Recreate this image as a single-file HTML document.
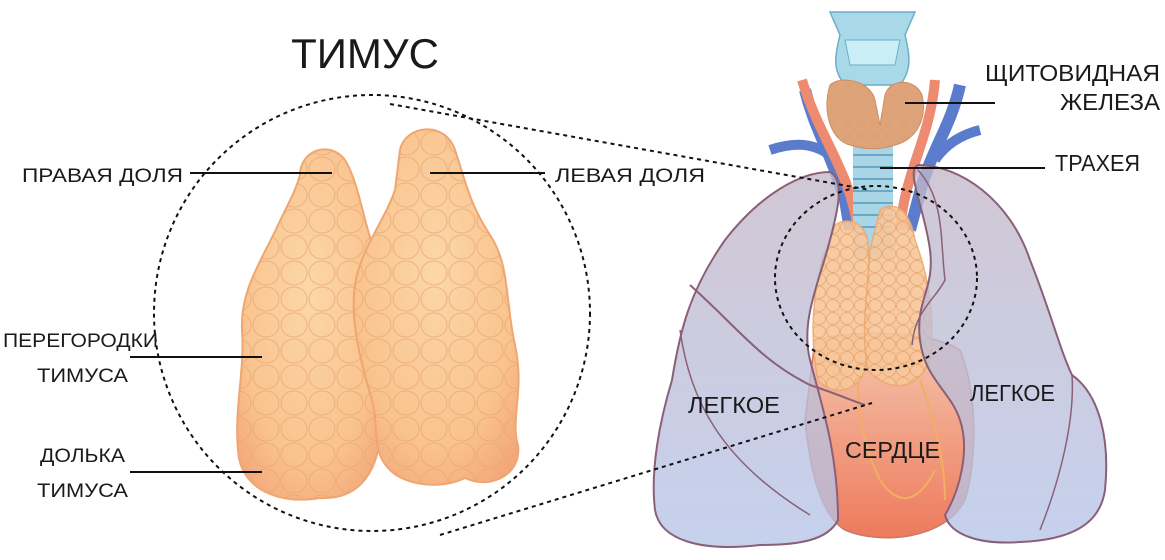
<!DOCTYPE html>
<html><head><meta charset="utf-8"><style>
html,body{margin:0;padding:0;background:#fff;width:1165px;height:560px;overflow:hidden}
svg text{font-family:"Liberation Sans",sans-serif;fill:#1a1a1a}
</style></head><body>
<svg width="1165" height="560" viewBox="0 0 1165 560" xmlns="http://www.w3.org/2000/svg">
<defs>
<radialGradient id="thy" cx="50%" cy="40%" r="70%"><stop offset="0" stop-color="#fcd7a8"/><stop offset="0.7" stop-color="#f9c38e"/><stop offset="1" stop-color="#f4a77a"/></radialGradient>
<linearGradient id="lung" x1="0" y1="0" x2="0" y2="1"><stop offset="0" stop-color="#c4b8c8"/><stop offset="1" stop-color="#b6c4e8"/></linearGradient>
<linearGradient id="heart" x1="0" y1="0" x2="0" y2="1"><stop offset="0" stop-color="#f4c6ae"/><stop offset="1" stop-color="#ee7a5c"/></linearGradient>
<pattern id="lob" width="28" height="26" patternUnits="userSpaceOnUse">
<ellipse cx="14" cy="13" rx="13" ry="12" fill="none" stroke="#e8a773" stroke-width="1.1"/>
</pattern>
<pattern id="lob2" width="14" height="13" patternUnits="userSpaceOnUse">
<ellipse cx="7" cy="6.5" rx="6.5" ry="6" fill="none" stroke="#e6a570" stroke-width="1"/>
</pattern>
</defs>

<text x="365" y="68" font-size="42" text-anchor="middle">ТИМУС</text>

<path d="M300,175 C300,150 330,140 345,160 C360,185 362,220 378,260 C388,300 378,360 380,420 C382,470 360,500 320,498 C280,505 240,490 238,450 C234,410 245,370 242,330 C240,290 262,260 278,225 C290,200 296,190 300,175 Z" fill="url(#thy)" stroke="#efa670" stroke-width="2"/>
<path d="M300,175 C300,150 330,140 345,160 C360,185 362,220 378,260 C388,300 378,360 380,420 C382,470 360,500 320,498 C280,505 240,490 238,450 C234,410 245,370 242,330 C240,290 262,260 278,225 C290,200 296,190 300,175 Z" fill="url(#lob)" opacity="0.7"/>
<path d="M400,150 C405,125 445,120 455,150 C465,180 470,205 490,235 C510,265 505,300 515,345 C525,390 510,420 518,445 C522,475 490,490 465,478 C440,490 405,485 390,470 C370,450 380,430 372,400 C360,360 350,320 355,285 C360,250 385,220 395,190 Z" fill="url(#thy)" stroke="#efa670" stroke-width="2"/>
<path d="M400,150 C405,125 445,120 455,150 C465,180 470,205 490,235 C510,265 505,300 515,345 C525,390 510,420 518,445 C522,475 490,490 465,478 C440,490 405,485 390,470 C370,450 380,430 372,400 C360,360 350,320 355,285 C360,250 385,220 395,190 Z" fill="url(#lob)" opacity="0.7"/>

<ellipse cx="372" cy="313" rx="218" ry="218" fill="none" stroke="#111" stroke-width="2" stroke-dasharray="4,4"/>

<text x="22" y="182" font-size="19" textLength="161" lengthAdjust="spacingAndGlyphs">ПРАВАЯ ДОЛЯ</text>
<line x1="190" y1="173" x2="332" y2="173" stroke="#111" stroke-width="2"/>
<text x="555" y="182" font-size="19" textLength="150" lengthAdjust="spacingAndGlyphs">ЛЕВАЯ ДОЛЯ</text>
<line x1="430" y1="173" x2="545" y2="173" stroke="#111" stroke-width="2"/>
<text x="3" y="347" font-size="19" textLength="155" lengthAdjust="spacingAndGlyphs">ПЕРЕГОРОДКИ</text>
<text x="37" y="382" font-size="19" textLength="91" lengthAdjust="spacingAndGlyphs">ТИМУСА</text>
<line x1="130" y1="357" x2="262" y2="357" stroke="#111" stroke-width="2"/>
<text x="40" y="462" font-size="19" textLength="85" lengthAdjust="spacingAndGlyphs">ДОЛЬКА</text>
<text x="37" y="497" font-size="19" textLength="91" lengthAdjust="spacingAndGlyphs">ТИМУСА</text>
<line x1="130" y1="472" x2="262" y2="472" stroke="#111" stroke-width="2"/>

<path d="M805,90 C815,130 830,150 845,200 L850,230" fill="none" stroke="#5b7ccc" stroke-width="12"/>
<path d="M770,150 C800,140 820,145 835,160" fill="none" stroke="#5b7ccc" stroke-width="10"/>
<path d="M960,85 C950,130 930,150 918,200 L910,230" fill="none" stroke="#5b7ccc" stroke-width="12"/>
<path d="M980,130 C960,135 945,145 935,160" fill="none" stroke="#5b7ccc" stroke-width="10"/>
<path d="M802,80 C820,140 850,170 858,230" fill="none" stroke="#ee8a70" stroke-width="10"/>
<path d="M935,80 C930,140 905,170 900,230" fill="none" stroke="#ee8a70" stroke-width="10"/>

<path d="M830,12 L915,12 L905,35 C910,55 912,70 900,85 L845,85 C832,70 835,55 840,35 Z" fill="#a9d9e8" stroke="#6aaec8" stroke-width="1.5"/>
<path d="M845,40 L900,40 L895,65 L850,65 Z" fill="#c9eef5" stroke="#6aaec8"/>
<rect x="853" y="140" width="40" height="120" rx="6" fill="#a9d6e6"/>
<g stroke="#6aa8c4" stroke-width="2">
<line x1="853" y1="155" x2="893" y2="155"/><line x1="853" y1="167" x2="893" y2="167"/><line x1="853" y1="179" x2="893" y2="179"/><line x1="853" y1="191" x2="893" y2="191"/><line x1="853" y1="203" x2="893" y2="203"/><line x1="853" y1="215" x2="893" y2="215"/><line x1="853" y1="227" x2="893" y2="227"/>
</g>
<path d="M830,85 C840,75 870,80 875,100 L880,125 L885,95 C890,78 915,78 922,95 C928,120 915,140 895,145 C880,150 865,150 850,145 C830,140 822,110 830,85 Z" fill="#dca37a" stroke="#c98b62"/>
<path d="M830,85 C840,75 870,80 875,100 L880,125 L885,95 C890,78 915,78 922,95 C928,120 915,140 895,145 C880,150 865,150 850,145 C830,140 822,110 830,85 Z" fill="url(#lob2)" opacity="0.7"/>

<path d="M815,340 C850,330 930,330 960,350 C980,400 975,470 965,500 C945,540 880,545 845,530 C820,515 810,470 805,420 Z" fill="url(#heart)" stroke="#c67a6a" stroke-width="1.5"/>
<path d="M860,350 C855,400 860,440 880,480 C900,510 920,500 935,470" fill="none" stroke="#f0b060" stroke-width="2"/>
<path d="M920,380 C935,420 945,460 945,500" fill="none" stroke="#f0b060" stroke-width="2"/>

<path d="M835,225 C850,215 870,225 868,250 C872,290 870,330 865,370 C855,395 830,395 818,380 C810,340 812,300 822,260 Z" fill="#f8c79a" stroke="#eda96e" stroke-width="1.5" opacity="0.9"/>
<path d="M835,225 C850,215 870,225 868,250 C872,290 870,330 865,370 C855,395 830,395 818,380 C810,340 812,300 822,260 Z" fill="url(#lob2)" opacity="0.8"/>
<path d="M880,210 C895,200 910,210 915,240 C930,280 935,320 930,360 C915,395 885,390 868,370 C860,330 868,290 870,250 Z" fill="#f8c79a" stroke="#eda96e" stroke-width="1.5" opacity="0.9"/>
<path d="M880,210 C895,200 910,210 915,240 C930,280 935,320 930,360 C915,395 885,390 868,370 C860,330 868,290 870,250 Z" fill="url(#lob2)" opacity="0.8"/>

<path d="M830,172 C800,172 760,195 725,240 C690,290 680,330 672,380 C660,420 650,470 655,510 C660,540 700,552 760,545 C800,545 828,540 838,520 C838,450 820,400 810,360 C800,320 820,280 830,240 C838,210 845,180 830,172 Z" fill="url(#lung)" fill-opacity="0.78" stroke="#8a6078" stroke-width="2"/>
<path d="M690,285 C740,330 760,360 810,385 C840,395 850,400 865,405" fill="none" stroke="#8a6078" stroke-width="2"/>
<path d="M680,330 C690,400 720,460 810,515" fill="none" stroke="#8a6078" stroke-width="1.5"/>
<path d="M918,165 C960,165 1010,200 1030,260 C1050,310 1060,350 1072,375 C1100,395 1110,440 1105,490 C1100,525 1070,540 1020,542 C980,545 950,535 945,515 C960,490 970,450 960,420 C950,390 925,380 920,340 C915,300 935,290 930,250 C925,210 905,170 918,165 Z" fill="url(#lung)" fill-opacity="0.78" stroke="#8a6078" stroke-width="2"/>
<path d="M918,170 C945,200 940,240 945,280 C935,300 915,310 912,345" fill="none" stroke="#8a6078" stroke-width="1.5"/>
<path d="M1072,375 C1075,420 1060,480 1040,530" fill="none" stroke="#8a6078" stroke-width="1.5"/>

<ellipse cx="876" cy="278" rx="101" ry="92" fill="none" stroke="#111" stroke-width="2" stroke-dasharray="4,4"/>
<line x1="390" y1="104" x2="870" y2="190" stroke="#111" stroke-width="2" stroke-dasharray="4,4"/>
<line x1="440" y1="535" x2="872" y2="403" stroke="#111" stroke-width="2" stroke-dasharray="4,4"/>

<text x="985" y="81" font-size="23" textLength="175" lengthAdjust="spacingAndGlyphs">ЩИТОВИДНАЯ</text>
<text x="1060" y="110" font-size="23" textLength="100" lengthAdjust="spacingAndGlyphs">ЖЕЛЕЗА</text>
<line x1="905" y1="103" x2="995" y2="103" stroke="#111" stroke-width="2"/>
<text x="1055" y="171" font-size="23" textLength="85" lengthAdjust="spacingAndGlyphs">ТРАХЕЯ</text>
<line x1="880" y1="168" x2="1045" y2="168" stroke="#111" stroke-width="2"/>
<text x="688" y="413" font-size="23" textLength="92" lengthAdjust="spacingAndGlyphs">ЛЕГКОЕ</text>
<text x="970" y="401" font-size="23" textLength="85" lengthAdjust="spacingAndGlyphs">ЛЕГКОЕ</text>
<text x="845" y="458" font-size="23" textLength="95" lengthAdjust="spacingAndGlyphs">СЕРДЦЕ</text>
</svg>
</body></html>
